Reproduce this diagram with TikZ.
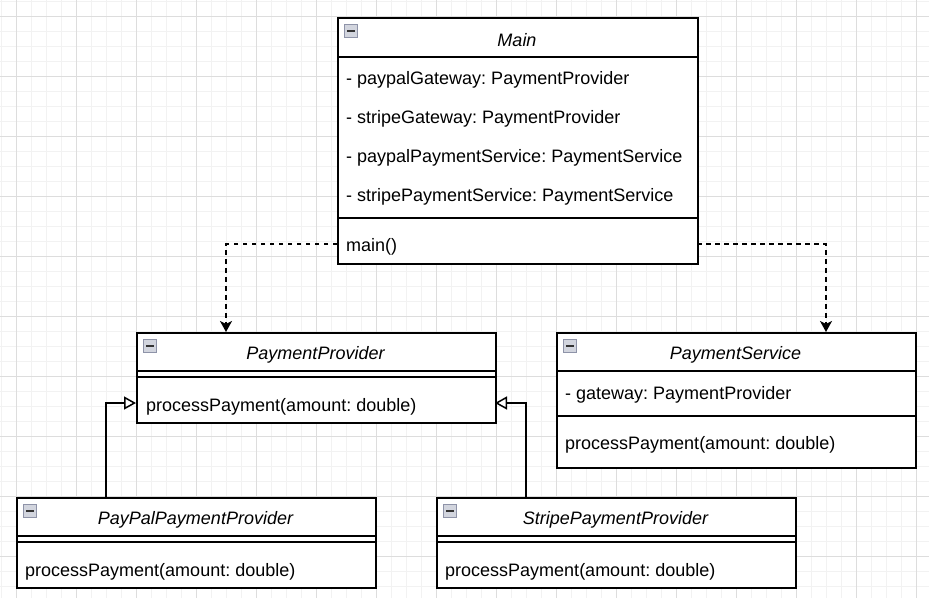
\documentclass[tikz,border=0pt]{standalone}
\usepackage{fontspec}
\setmainfont{Liberation Sans}
\usetikzlibrary{arrows.meta}
\frenchspacing
\definecolor{gridminor}{HTML}{F2F2F2}
\definecolor{gridmajor}{HTML}{DDDDDD}
\definecolor{iconfill}{HTML}{D2D5DE}
\definecolor{icondraw}{HTML}{8E93A8}
\definecolor{iconbar}{HTML}{333333}
\tikzset{
  box/.style={draw=black, line width=1.5pt, fill=white, anchor=north west, inner sep=0pt},
  member/.style={anchor=west, inner sep=0pt, font=\fontsize{18}{21}\selectfont\frenchspacing},
  title/.style={inner sep=0pt, font=\fontsize{18}{21}\selectfont\itshape},
  sepline/.style={line width=1.5pt},
  dep/.style={line width=1.5pt, dash pattern=on 4.5pt off 4.5pt, -{Stealth[length=11pt,width=12pt,inset=3pt]}},
  inh/.style={line width=1.5pt, -{Triangle[open,length=12pt,width=13pt]}},
  icon/.style={draw=icondraw, fill=iconfill, line width=1pt, minimum size=13pt, inner sep=0pt, anchor=north west},
  iconbarstyle/.style={draw=iconbar, line width=2pt}
}
\begin{document}
\begin{tikzpicture}[x=1pt,y=-1pt]
\fill[white] (0,0) rectangle (929,598);
\useasboundingbox (0,0) rectangle (929,598);
% grid
\foreach \gx in {1,16,...,929} \draw[gridminor, line width=1pt] (\gx,0) -- (\gx,598);
\foreach \gy in {1,16,...,598} \draw[gridminor, line width=1pt] (0,\gy) -- (929,\gy);
\foreach \gx in {16,76,...,929} \draw[gridmajor, line width=1pt] (\gx,0) -- (\gx,598);
\foreach \gy in {16,76,...,598} \draw[gridmajor, line width=1pt] (0,\gy) -- (929,\gy);

% Main
\node[box, minimum width=360pt, minimum height=246pt] (main) at (337,17) {};
\draw[sepline] (337,57) -- (697,57);
\draw[sepline] (337,218) -- (697,218);
\node[title] (mainT) at (517,40) {Main};
\node[member] (m1) at (346,80) {- paypalGateway: PaymentProvider};
\node[member] (m2) at (346,119) {- stripeGateway: PaymentProvider};
\node[member] (m3) at (346,158) {- paypalPaymentService: PaymentService};
\node[member] (m4) at (346,197) {- stripePaymentService: PaymentService};
\node[member] (m5) at (346,247) {main()};

% PaymentProvider
\node[box, minimum width=359pt, minimum height=90pt] (pp) at (136,332) {};
\draw[sepline] (136,371) -- (495,371);
\draw[sepline] (136,377) -- (495,377);
\node[title] (ppT) at (315.5,355) {PaymentProvider};
\node[member] (pp1) at (146,407) {processPayment(amount: double)};

% PaymentService
\node[box, minimum width=359pt, minimum height=135pt] (ps) at (556,332) {};
\draw[sepline] (556,371) -- (915,371);
\draw[sepline] (556,416) -- (915,416);
\node[title] (psT) at (735.5,355) {PaymentService};
\node[member] (ps1) at (565,395) {- gateway: PaymentProvider};
\node[member] (ps2) at (565,445) {processPayment(amount: double)};

% PayPalPaymentProvider
\node[box, minimum width=359pt, minimum height=90pt] (paypal) at (16,497) {};
\draw[sepline] (16,536) -- (375,536);
\draw[sepline] (16,542) -- (375,542);
\node[title] (paypalT) at (195.5,520) {PayPalPaymentProvider};
\node[member] (paypal1) at (25,572) {processPayment(amount: double)};

% StripePaymentProvider
\node[box, minimum width=359pt, minimum height=90pt] (stripe) at (436,497) {};
\draw[sepline] (436,536) -- (795,536);
\draw[sepline] (436,542) -- (795,542);
\node[title] (stripeT) at (615.5,520) {StripePaymentProvider};
\node[member] (stripe1) at (445,572) {processPayment(amount: double)};

% collapse icons
\foreach \nm/\ix/\iy in {iMain/344/24, iPP/143/339, iPS/563/339, iPayPal/23/504, iStripe/443/504} {
  \node[icon] (\nm) at (\ix,\iy) {};
  \draw[iconbarstyle] ([xshift=-4pt]\nm.center) -- ([xshift=4pt]\nm.center);
}

% connector anchors
\coordinate (mainL) at (337,244);
\coordinate (mainR) at (697,244);
\coordinate (ppTop) at (226,332);
\coordinate (psTop) at (826,332);
\coordinate (ppLeft) at (136,403);
\coordinate (ppRight) at (495,403);
\coordinate (paypalTop) at (106,497);
\coordinate (stripeTop) at (526,497);

\draw[dep] (mainL) -| (ppTop);
\draw[dep] (mainR) -| (psTop);
\draw[inh] (paypalTop) |- (ppLeft);
\draw[inh] (stripeTop) |- (ppRight);
\end{tikzpicture}
\end{document}
